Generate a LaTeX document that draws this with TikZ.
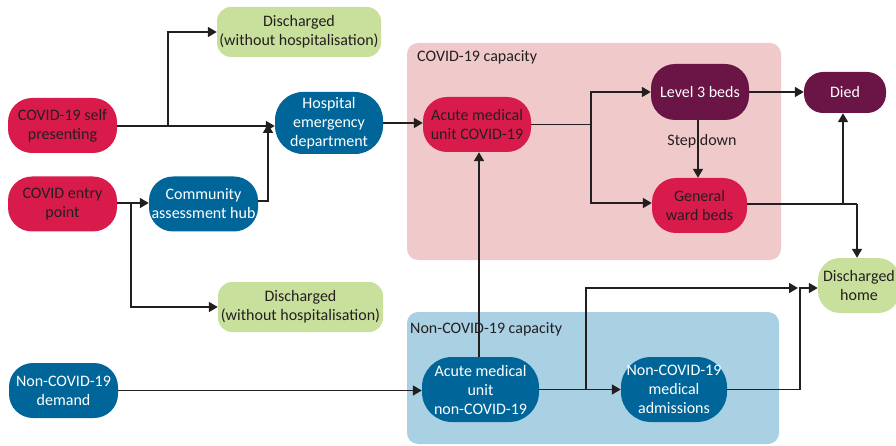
\documentclass[tikz,border=0pt]{standalone}
\usepackage{fontspec}
\setmainfont{Carlito}
\usetikzlibrary{arrows.meta}
\definecolor{crim}{HTML}{D81B4B}
\definecolor{nblue}{HTML}{00669A}
\definecolor{purp}{HTML}{6A1545}
\definecolor{lgreen}{HTML}{C8E09C}
\definecolor{pinkbg}{HTML}{F0CACA}
\definecolor{bluebg}{HTML}{A9D0E3}
\definecolor{ink}{HTML}{231F20}
\tikzset{
  base/.style={rectangle,inner sep=0pt,align=center,font=\fontsize{16}{19}\selectfont},
  rednode/.style={base,fill=crim,text=ink,rounded corners=24pt},
  bluenode/.style={base,fill=nblue,text=white,rounded corners=24pt},
  purpnode/.style={base,fill=purp,text=white,rounded corners=24pt},
  greennode/.style={base,fill=lgreen,text=ink,rounded corners=14pt},
  region/.style={rounded corners=11pt},
  lbl/.style={font=\fontsize{16}{19}\selectfont,text=ink,inner sep=0pt},
  conn/.style={draw=ink,line width=1.7pt},
  arr/.style={conn,-{Triangle[length=9pt,width=10pt]}}
}
\begin{document}
\begin{tikzpicture}[x=1pt,y=-1pt]
\useasboundingbox (0,0) rectangle (896,446);
% regions
\fill[pinkbg,region] (407,43) rectangle (781,260);
\fill[bluebg,region] (407,312) rectangle (779,444);
\node[lbl,anchor=west] (covcap) at (417,57) {COVID-19 capacity};
\node[lbl,anchor=west] (noncap) at (410,329) {Non-COVID-19 capacity};
% nodes
\node[greennode,minimum width=164pt,minimum height=50pt] (dt) at (299,32) {Discharged\\(without hospitalisation)};
\node[rednode,minimum width=109pt,minimum height=55pt] (sp) at (62.5,125.5) {COVID-19 self\\presenting};
\node[rednode,minimum width=109pt,minimum height=55pt] (ep) at (62.5,204) {COVID entry\\point};
\node[bluenode,minimum width=109pt,minimum height=55pt] (cah) at (203.5,204) {Community\\assessment hub};
\node[bluenode,minimum width=108pt,minimum height=62pt,rounded corners=28pt] (ed) at (329,123) {Hospital\\emergency\\department};
\node[greennode,minimum width=165pt,minimum height=50pt] (db) at (300.5,307) {Discharged\\(without hospitalisation)};
\node[bluenode,minimum width=109pt,minimum height=55pt] (nd) at (63.5,390.5) {Non-COVID-19\\demand};
\node[rednode,minimum width=108pt,minimum height=55pt] (ac) at (477,124.5) {Acute medical\\unit COVID-19};
\node[purpnode,minimum width=98pt,minimum height=56pt] (l3) at (700,92) {Level 3 beds};
\node[purpnode,minimum width=82pt,minimum height=41pt,rounded corners=19pt] (died) at (845,92.5) {Died};
\node[rednode,minimum width=95pt,minimum height=55pt] (gw) at (699.5,205.5) {General\\ward beds};
\node[greennode,minimum width=82pt,minimum height=55pt,rounded corners=22pt] (dh) at (859,285.5) {Discharged\\home};
\node[bluenode,minimum width=117pt,minimum height=65pt,rounded corners=30pt] (an) at (480.5,389.5) {Acute medical\\unit\\non-COVID-19};
\node[bluenode,minimum width=106pt,minimum height=65pt,rounded corners=30pt] (nm) at (674,389.5) {Non-COVID-19\\medical\\admissions};
% junction coordinates
\coordinate (b1) at (168,126);
\coordinate (j1) at (268,124);
\coordinate (b2) at (131,203);
\coordinate (b3) at (591,124.5);
\coordinate (b4) at (843,204);
\coordinate (b5) at (857,204);
\coordinate (b6) at (586,389.5);
\coordinate (t1) at (798,288);
\coordinate (b7) at (800,389.5);
% connectors
\draw[arr] (sp.east |- b1) -- (ed.west |- b1);
\draw[arr] (b1) |- (dt.west);
\draw[arr] (cah.east |- 0,201) -| (j1);
\draw[arr] (ep.east |- b2) -- (cah.west |- b2);
\draw[arr] (b2) |- (db.west);
\draw[arr] (ed.east) -- (ac.west |- ed.east);
\draw[conn] (ac.east) -- (b3);
\draw[arr] (b3) |- (l3.west);
\draw[arr] (b3) |- (gw.west |- 0,203);
\draw[arr] (l3.east) -- (died.west |- l3.east);
\draw[arr] (l3.south -| 698,0) -- (gw.north -| 698,0);
\node[lbl] (sd) at (702,141) {Step down};
\draw[conn] (gw.east |- b5) -- (b5);
\draw[arr] (b5) -- (dh.north -| b5);
\draw[arr] (b4) -- (died.south -| b4);
\draw[arr] (an.north -| 479,0) -- (ac.south -| 479,0);
\draw[arr] (nd.east) -- (an.west |- nd.east);
\draw[arr] (an.east) -- (nm.west);
\draw[arr] (b6) |- (t1);
\draw[conn] (nm.east) -- (b7);
\draw[arr] (b7) |- (dh.west |- t1);
\end{tikzpicture}
\end{document}
